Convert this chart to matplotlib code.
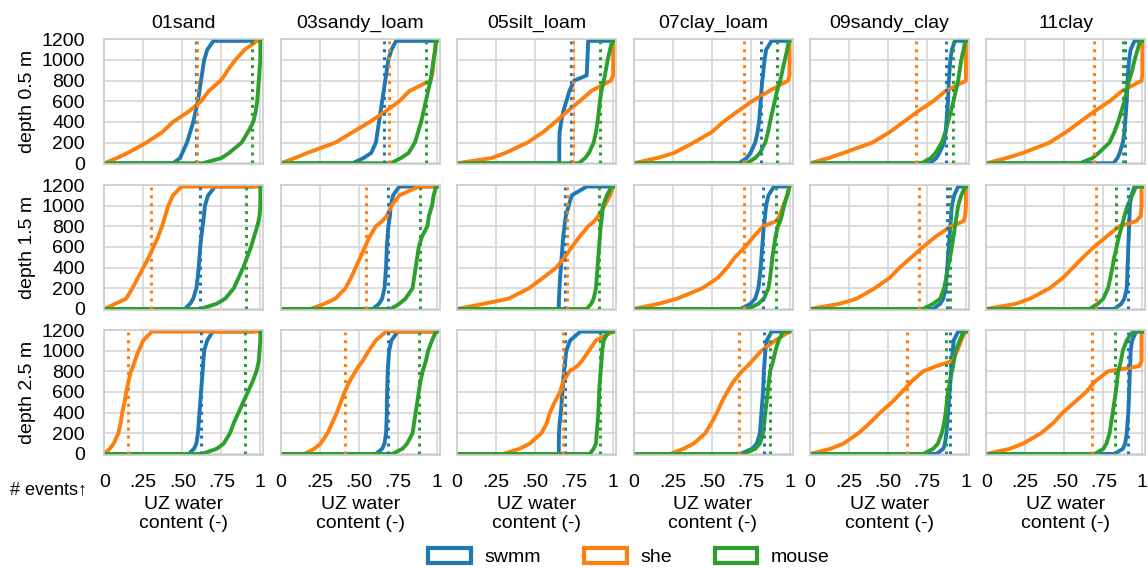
import matplotlib
matplotlib.use("Agg")
import matplotlib.pyplot as plt
from matplotlib.patches import Patch

plt.rcParams['font.family'] = ['Liberation Sans', 'DejaVu Sans']

# ---------------- data ----------------
soils = ['01sand', '03sandy_loam', '05silt_loam', '07clay_loam', '09sandy_clay', '11clay']
depths = ['depth 0.5 m', 'depth 1.5 m', 'depth 2.5 m']
models = ['swmm', 'she', 'mouse']
colors = ['#1f77b4', '#ff7f0e', '#2ca02c']

# number of events (y) at which the sorted water contents below are read
levels = [0, 50, 100, 200, 300, 400, 500, 600, 700, 800, 850, 900, 1000, 1100, 1185]
tick_labels_x = ['0', '.25', '.50', '.75', '1']

# ---- depth 0.5 m ----
sand_d05_swmm = [0.44, 0.485, 0.50, 0.53, 0.55, 0.57, 0.585, 0.60, 0.61, 0.62, 0.625, 0.63, 0.64, 0.66, 0.70]
sand_d05_she = [0.0, 0.08, 0.15, 0.27, 0.37, 0.44, 0.54, 0.62, 0.67, 0.745, 0.77, 0.79, 0.84, 0.90, 0.98]
sand_d05_mouse = [0.63, 0.75, 0.80, 0.88, 0.92, 0.955, 0.97, 0.98, 0.985, 0.99, 0.993, 0.995, 1.0, 1.0, 1.0]
sand_d05_top = [0.97, 1.0, 1.0]
sand_d05_mean = [0.59, 0.595, 0.945]

sandyloam_d05_swmm = [0.46, 0.53, 0.58, 0.61, 0.62, 0.63, 0.64, 0.65, 0.66, 0.67, 0.675, 0.68, 0.69, 0.71, 0.74]
sandyloam_d05_she = [0.0, 0.09, 0.17, 0.35, 0.46, 0.57, 0.67, 0.76, 0.825, 0.96, 0.97, 0.975, 0.98, 0.99, 0.995]
sandyloam_d05_mouse = [0.705, 0.77, 0.82, 0.86, 0.88, 0.90, 0.915, 0.93, 0.945, 0.96, 0.965, 0.97, 0.98, 0.99, 0.995]
sandyloam_d05_top = [0.995, 1.0, 1.0]
sandyloam_d05_mean = [0.66, 0.695, 0.93]

siltloam_d05_swmm = [0.655, 0.655, 0.655, 0.655, 0.657, 0.667, 0.68, 0.70, 0.72, 0.75, 0.83, 0.832, 0.835, 0.838, 0.84]
siltloam_d05_she = [0.0, 0.22, 0.31, 0.45, 0.55, 0.63, 0.705, 0.785, 0.86, 0.985, 1.0, 1.0, 1.0, 1.0, 1.0]
siltloam_d05_mouse = [0.78, 0.82, 0.845, 0.875, 0.89, 0.90, 0.908, 0.915, 0.925, 0.94, 0.947, 0.953, 0.965, 0.98, 0.995]
siltloam_d05_top = [0.995, 1.0, 1.0]
siltloam_d05_mean = [0.727, 0.745, 0.915]

clayloam_d05_swmm = [0.675, 0.725, 0.75, 0.78, 0.795, 0.805, 0.81, 0.815, 0.82, 0.825, 0.83, 0.833, 0.84, 0.85, 0.885]
clayloam_d05_she = [0.0, 0.15, 0.26, 0.385, 0.50, 0.575, 0.665, 0.76, 0.87, 0.99, 1.0, 1.0, 1.0, 1.0, 1.0]
clayloam_d05_mouse = [0.725, 0.78, 0.81, 0.845, 0.862, 0.875, 0.89, 0.905, 0.92, 0.94, 0.948, 0.955, 0.97, 0.985, 0.995]
clayloam_d05_top = [0.99, 1.0, 1.0]
clayloam_d05_mean = [0.82, 0.71, 0.92]

sandyclay_d05_swmm = [0.77, 0.81, 0.83, 0.86, 0.87, 0.875, 0.88, 0.885, 0.888, 0.89, 0.893, 0.895, 0.90, 0.91, 0.93]
sandyclay_d05_she = [0.0, 0.12, 0.215, 0.40, 0.51, 0.60, 0.69, 0.79, 0.87, 1.0, 1.0, 1.0, 1.0, 1.0, 1.0]
sandyclay_d05_mouse = [0.715, 0.775, 0.805, 0.845, 0.868, 0.885, 0.903, 0.92, 0.935, 0.95, 0.955, 0.96, 0.97, 0.985, 0.995]
sandyclay_d05_top = [0.995, 1.0, 1.0]
sandyclay_d05_mean = [0.875, 0.68, 0.915]

clay_d05_swmm = [0.815, 0.84, 0.855, 0.875, 0.885, 0.89, 0.895, 0.90, 0.903, 0.905, 0.908, 0.91, 0.915, 0.925, 0.95]
clay_d05_she = [0.0, 0.13, 0.235, 0.405, 0.51, 0.60, 0.69, 0.79, 0.87, 0.995, 1.0, 1.0, 1.0, 1.0, 1.0]
clay_d05_mouse = [0.60, 0.68, 0.72, 0.79, 0.82, 0.845, 0.865, 0.885, 0.90, 0.915, 0.925, 0.935, 0.95, 0.97, 0.985]
clay_d05_top = [0.995, 1.0, 1.0]
clay_d05_mean = [0.89, 0.69, 0.875]

# ---- depth 1.5 m ----
sand_d15_swmm = [0.515, 0.55, 0.57, 0.59, 0.598, 0.605, 0.61, 0.615, 0.622, 0.63, 0.635, 0.638, 0.645, 0.665, 0.71]
sand_d15_she = [0.0, 0.07, 0.14, 0.18, 0.215, 0.25, 0.285, 0.315, 0.345, 0.37, 0.38, 0.39, 0.41, 0.44, 0.495]
sand_d15_mouse = [0.615, 0.72, 0.775, 0.83, 0.86, 0.89, 0.915, 0.94, 0.96, 0.98, 0.988, 0.995, 1.0, 1.0, 1.0]
sand_d15_top = [0.95, 1.0, 1.0]
sand_d15_mean = [0.615, 0.30, 0.91]

sandyloam_d15_swmm = [0.59, 0.63, 0.65, 0.665, 0.67, 0.675, 0.678, 0.68, 0.685, 0.69, 0.695, 0.70, 0.705, 0.72, 0.76]
sandyloam_d15_she = [0.19, 0.28, 0.35, 0.415, 0.45, 0.48, 0.51, 0.54, 0.57, 0.61, 0.65, 0.68, 0.71, 0.76, 0.885]
sandyloam_d15_mouse = [0.705, 0.76, 0.80, 0.845, 0.855, 0.865, 0.875, 0.885, 0.905, 0.94, 0.945, 0.95, 0.97, 0.98, 0.995]
sandyloam_d15_top = [0.99, 1.0, 1.0]
sandyloam_d15_mean = [0.685, 0.545, 0.89]

siltloam_d15_swmm = [0.652, 0.652, 0.653, 0.656, 0.66, 0.665, 0.67, 0.675, 0.68, 0.688, 0.692, 0.697, 0.715, 0.735, 0.83]
siltloam_d15_she = [0.0, 0.17, 0.33, 0.46, 0.55, 0.635, 0.69, 0.735, 0.785, 0.84, 0.88, 0.905, 0.945, 0.98, 1.0]
siltloam_d15_mouse = [0.83, 0.86, 0.875, 0.89, 0.895, 0.90, 0.905, 0.91, 0.915, 0.92, 0.925, 0.928, 0.935, 0.96, 0.99]
siltloam_d15_top = [1.0, 1.0, 1.0]
siltloam_d15_mean = [0.69, 0.705, 0.91]

clayloam_d15_swmm = [0.685, 0.75, 0.78, 0.80, 0.808, 0.815, 0.82, 0.825, 0.83, 0.835, 0.84, 0.843, 0.85, 0.865, 0.90]
clayloam_d15_she = [0.0, 0.16, 0.28, 0.44, 0.54, 0.60, 0.65, 0.715, 0.77, 0.83, 0.915, 0.935, 0.96, 0.985, 1.0]
clayloam_d15_mouse = [0.735, 0.80, 0.835, 0.865, 0.875, 0.883, 0.89, 0.90, 0.91, 0.925, 0.94, 0.95, 0.965, 0.985, 1.0]
clayloam_d15_top = [0.995, 1.0, 1.0]
clayloam_d15_mean = [0.83, 0.705, 0.915]

sandyclay_d15_swmm = [0.79, 0.835, 0.855, 0.87, 0.875, 0.88, 0.885, 0.89, 0.895, 0.90, 0.903, 0.905, 0.91, 0.925, 0.95]
sandyclay_d15_she = [0.0, 0.19, 0.30, 0.415, 0.51, 0.575, 0.65, 0.725, 0.805, 0.905, 0.985, 0.995, 1.0, 1.0, 1.0]
sandyclay_d15_mouse = [0.725, 0.79, 0.835, 0.86, 0.873, 0.885, 0.898, 0.91, 0.92, 0.93, 0.935, 0.94, 0.95, 0.97, 0.995]
sandyclay_d15_top = [0.995, 1.0, 1.0]
sandyclay_d15_mean = [0.88, 0.70, 0.90]

clay_d15_swmm = [0.82, 0.865, 0.885, 0.90, 0.903, 0.905, 0.908, 0.91, 0.913, 0.915, 0.917, 0.918, 0.92, 0.93, 0.95]
clay_d15_she = [0.0, 0.19, 0.28, 0.405, 0.49, 0.555, 0.62, 0.69, 0.77, 0.85, 0.96, 0.99, 0.995, 0.995, 0.995]
clay_d15_mouse = [0.66, 0.715, 0.75, 0.78, 0.795, 0.808, 0.82, 0.835, 0.85, 0.868, 0.877, 0.885, 0.905, 0.935, 0.96]
clay_d15_top = [0.995, 1.0, 1.0]
clay_d15_mean = [0.905, 0.70, 0.83]

# ---- depth 2.5 m ----
sand_d25_swmm = [0.54, 0.575, 0.59, 0.60, 0.605, 0.61, 0.615, 0.62, 0.625, 0.63, 0.633, 0.635, 0.64, 0.66, 0.695]
sand_d25_she = [0.0, 0.035, 0.06, 0.09, 0.105, 0.115, 0.13, 0.14, 0.155, 0.17, 0.185, 0.195, 0.22, 0.25, 0.305]
sand_d25_mouse = [0.625, 0.72, 0.765, 0.805, 0.83, 0.86, 0.89, 0.92, 0.95, 0.975, 0.983, 0.99, 0.995, 1.0, 1.0]
sand_d25_top = [0.95, 1.0, 1.0]
sand_d25_mean = [0.62, 0.15, 0.90]

sandyloam_d25_swmm = [0.61, 0.65, 0.665, 0.675, 0.678, 0.68, 0.68, 0.682, 0.684, 0.686, 0.688, 0.69, 0.695, 0.71, 0.75]
sandyloam_d25_she = [0.15, 0.215, 0.255, 0.30, 0.33, 0.36, 0.385, 0.41, 0.44, 0.48, 0.50, 0.525, 0.565, 0.61, 0.675]
sandyloam_d25_mouse = [0.715, 0.78, 0.81, 0.845, 0.855, 0.865, 0.875, 0.885, 0.895, 0.91, 0.92, 0.93, 0.945, 0.97, 0.995]
sandyloam_d25_top = [0.99, 1.0, 1.0]
sandyloam_d25_mean = [0.685, 0.41, 0.885]

siltloam_d25_swmm = [0.652, 0.652, 0.652, 0.653, 0.657, 0.665, 0.67, 0.675, 0.68, 0.685, 0.69, 0.693, 0.70, 0.725, 0.79]
siltloam_d25_she = [0.295, 0.40, 0.465, 0.54, 0.575, 0.595, 0.625, 0.66, 0.68, 0.72, 0.77, 0.80, 0.845, 0.89, 1.0]
siltloam_d25_mouse = [0.85, 0.875, 0.89, 0.895, 0.90, 0.905, 0.908, 0.91, 0.915, 0.92, 0.923, 0.925, 0.93, 0.94, 0.97]
siltloam_d25_top = [1.0, 1.0, 1.0]
siltloam_d25_mean = [0.69, 0.68, 0.915]

clayloam_d25_swmm = [0.685, 0.76, 0.79, 0.81, 0.815, 0.82, 0.825, 0.83, 0.833, 0.835, 0.838, 0.84, 0.845, 0.855, 0.885]
clayloam_d25_she = [0.235, 0.32, 0.385, 0.46, 0.50, 0.535, 0.565, 0.60, 0.64, 0.695, 0.73, 0.76, 0.82, 0.91, 1.0]
clayloam_d25_mouse = [0.705, 0.78, 0.81, 0.83, 0.838, 0.845, 0.853, 0.86, 0.868, 0.875, 0.885, 0.895, 0.91, 0.93, 0.96]
clayloam_d25_top = [0.99, 1.0, 1.0]
clayloam_d25_mean = [0.835, 0.675, 0.875]

sandyclay_d25_swmm = [0.81, 0.855, 0.865, 0.875, 0.88, 0.885, 0.89, 0.895, 0.90, 0.905, 0.908, 0.91, 0.915, 0.922, 0.95]
sandyclay_d25_she = [0.0, 0.13, 0.215, 0.31, 0.385, 0.45, 0.525, 0.59, 0.65, 0.725, 0.81, 0.91, 0.945, 0.97, 0.995]
sandyclay_d25_mouse = [0.725, 0.79, 0.82, 0.845, 0.86, 0.87, 0.878, 0.885, 0.898, 0.91, 0.917, 0.923, 0.935, 0.96, 0.985]
sandyclay_d25_top = [0.995, 1.0, 1.0]
sandyclay_d25_mean = [0.895, 0.625, 0.875]

clay_d25_swmm = [0.82, 0.875, 0.89, 0.90, 0.905, 0.91, 0.913, 0.915, 0.918, 0.92, 0.922, 0.923, 0.925, 0.935, 0.96]
clay_d25_she = [0.0, 0.15, 0.235, 0.35, 0.43, 0.49, 0.565, 0.64, 0.695, 0.78, 0.98, 0.995, 0.995, 0.995, 0.995]
clay_d25_mouse = [0.695, 0.75, 0.77, 0.79, 0.80, 0.81, 0.82, 0.83, 0.838, 0.845, 0.855, 0.862, 0.875, 0.90, 0.94]
clay_d25_top = [0.995, 1.0, 1.0]
clay_d25_mean = [0.91, 0.675, 0.825]

# assemble lookup from the named arrays
g = globals()
soil_keys = ['sand', 'sandyloam', 'siltloam', 'clayloam', 'sandyclay', 'clay']
depth_keys = ['d05', 'd15', 'd25']

# ---------------- layout ----------------
W, H = 1148, 568
fig = plt.figure(figsize=(W / 100, H / 100), dpi=100)
col_left = [104.3 + i * 176.4 for i in range(6)]
row_top = [38.8, 184.5, 329.5]
aw, ah = 159.0, 125.5

for r, dk in enumerate(depth_keys):
    for c, sk in enumerate(soil_keys):
        ax = fig.add_axes([col_left[c] / W, 1 - (row_top[r] + ah) / H, aw / W, ah / H])
        ax.set_xlim(0, 1.019)
        ax.set_ylim(-10, 1205)
        ax.set_xticks([0, 0.25, 0.5, 0.75, 1.0])
        ax.set_yticks(range(0, 1201, 200))
        ax.grid(True, color='#d6d6d6', lw=1.2)
        ax.set_axisbelow(True)
        for s in ax.spines.values():
            s.set_color('#cccccc')
            s.set_linewidth(1.2)
        ax.tick_params(length=0, pad=14, labelsize=14)
        if r == 2:
            ax.set_xticklabels(tick_labels_x)
        else:
            ax.tick_params(labelbottom=False)
        if c != 0:
            ax.tick_params(labelleft=False)
        tops = g[f'{sk}_{dk}_top']
        means = g[f'{sk}_{dk}_mean']
        for i, m in enumerate(models):
            xs = [0.0] + list(g[f'{sk}_{dk}_{m}']) + [tops[i]]
            ys = [0] + levels + [levels[-1]]
            ax.plot(xs, ys, color=colors[i], lw=2.8, solid_joinstyle='round')
        for i, m in enumerate(models):
            ax.vlines(means[i], 0, levels[-1], colors=colors[i], linestyles=(0, (1, 1.6)), lw=2.2)
        if r == 0:
            ax.set_title(soils[c], fontsize=14, pad=8)
        if r == 2:
            fig.text((col_left[c] + 79.5) / W, 1 - 514 / H, 'UZ water\ncontent (-)',
                     ha='center', va='center', fontsize=14, linespacing=1.1)
    fig.text(27 / W, 1 - (row_top[r] + ah / 2) / H, depths[r], rotation=90,
             ha='center', va='center', fontsize=14)

fig.text(10 / W, 1 - 490 / H, '# events\u2191', ha='left', va='center', fontsize=13)

handles = [Patch(facecolor='white', edgecolor=colors[i], lw=3, label=m) for i, m in enumerate(models)]
fig.legend(handles=handles, loc='center', bbox_to_anchor=(629 / W, 1 - 557 / H), ncol=3,
           frameon=False, fontsize=14, handlelength=2.2, handleheight=0.8, columnspacing=2.2,
           handletextpad=0.7)

fig.savefig('out.png', dpi=100)
